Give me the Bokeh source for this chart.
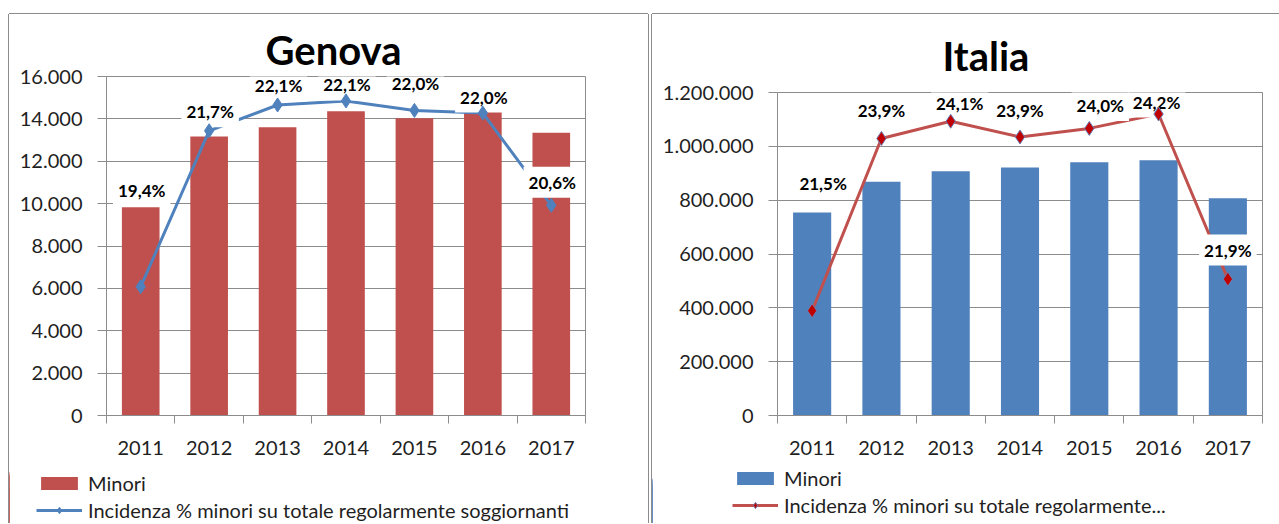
from bokeh.plotting import figure
from bokeh.layouts import row, column
from bokeh.models import (Range1d, FixedTicker, SingleIntervalTicker, CustomJSTickFormatter,
                          Legend, LegendItem, Label, Title, Spacer)
from bokeh.embed import file_html
from bokeh.resources import INLINE

# ---------------- data ----------------
years = ["2011", "2012", "2013", "2014", "2015", "2016", "2017"]

genova_minori = [9830, 13170, 13610, 14360, 14030, 14360, 13340]
genova_incidenza = [19.4, 21.7, 22.08, 22.14, 22.0, 21.96, 20.6]

italia_minori = [754000, 868000, 907000, 921000, 941000, 948000, 807000]
italia_incidenza = [21.46, 23.86, 24.1, 23.88, 24.0, 24.2, 21.9]

genova_title = "Genova"
italia_title = "Italia"
bar_label = "Minori"
line_label_genova = "Incidenza % minori su totale regolarmente soggiornanti"
line_label_italia = "Incidenza % minori su totale regolarmente..."

# ---------------- styles ----------------
RED = "#C0504D"
BLUE = "#4F81BD"
GRID = "#8c8c8c"
TXT = "#1f1f1f"
FONT = "Lato"

fmt = CustomJSTickFormatter(code="return tick.toFixed(0).replace(/\\B(?=(\\d{3})+(?!\\d))/g, '.');")

CHART_H = 452
LEG_H = 57


def make_panel(title, minori, incid, ymax, yint, pct_range, bar_color, line_color,
               marker_fill, marker_line, line_label, width, mb_left, mb_top,
               frame_w, frame_h, title_offset, title_standoff, lab_dx, lab_dy,
               legend_loc, styles):
    n = len(years)
    xs = list(range(n))
    p = figure(width=width, height=CHART_H, output_backend="svg", toolbar_location=None,
               x_range=Range1d(-0.5, n - 0.5), y_range=Range1d(0, ymax),
               min_border_left=mb_left, min_border_right=width - mb_left - frame_w,
               min_border_top=mb_top, min_border_bottom=CHART_H - mb_top - frame_h,
               background_fill_color="white", border_fill_color="white",
               outline_line_color=GRID, outline_line_width=1)
    p.title = Title(text=title, align="left", offset=title_offset, text_font=FONT,
                    text_font_size="40px", text_font_style="bold", text_color="black",
                    standoff=title_standoff, text_line_height=1.0)
    p.extra_y_ranges = {"pct": Range1d(*pct_range)}

    bars = p.vbar(x=xs, top=minori, width=0.55, fill_color=bar_color, line_color=None)
    ln = p.line(x=xs, y=incid, y_range_name="pct", line_color=line_color, line_width=3)
    pts = p.scatter(x=xs, y=incid, y_range_name="pct", marker="diamond", size=14,
                    fill_color=marker_fill, line_color=marker_line, line_width=1,
                    level="overlay")

    for i in range(n):
        txt = f"{incid[i]:.1f}%".replace(".", ",")
        p.add_layout(Label(x=xs[i], y=incid[i], y_range_name="pct", text=txt,
                           x_offset=lab_dx[i], y_offset=lab_dy[i],
                           text_align="center", text_baseline="middle",
                           text_font=FONT, text_font_size="17px", text_font_style="bold",
                           text_color="black", background_fill_color="white",
                           padding=5))

    # axes
    xa = p.xaxis[0]
    xa.ticker = FixedTicker(ticks=xs, minor_ticks=[i - 0.5 for i in range(n + 1)])
    xa.major_label_overrides = {i: years[i] for i in range(n)}
    xa.major_tick_out = 0
    xa.major_tick_in = 0
    xa.minor_tick_out = 8
    xa.minor_tick_in = 0
    xa.minor_tick_line_color = GRID
    xa.axis_line_color = GRID
    xa.major_label_text_font = FONT
    xa.major_label_text_font_size = "20px"
    xa.major_label_text_color = TXT
    xa.major_label_standoff = 17

    ya = p.yaxis[0]
    ya.ticker = SingleIntervalTicker(interval=yint, num_minor_ticks=0)
    ya.formatter = fmt
    ya.major_tick_out = 9
    ya.major_tick_in = 0
    ya.minor_tick_out = 0
    ya.minor_tick_in = 0
    ya.major_tick_line_color = GRID
    ya.axis_line_color = GRID
    ya.major_label_text_font = FONT
    ya.major_label_text_font_size = "20px"
    ya.major_label_text_color = TXT
    ya.major_label_standoff = 15

    p.xgrid.grid_line_color = None
    p.ygrid.grid_line_color = GRID
    p.ygrid.grid_line_width = 1
    p.ygrid.ticker = ya.ticker

    # legend lives in its own strip below the chart; its glyphs use the same data
    # (the strip's x range lies just right of the data, so only the legend shows)
    lg = figure(width=width, height=LEG_H, output_backend="svg", toolbar_location=None,
                x_range=Range1d(n + 0.5, n + 1.5), y_range=Range1d(0, ymax),
                x_axis_type=None, y_axis_type=None, min_border=0,
                background_fill_color="white", border_fill_color="white",
                outline_line_color=None)
    if "frame_align" in lg.properties():
        lg.frame_align = False
    lg.grid.visible = False
    lbars = lg.vbar(x=xs, top=minori, width=0.55, fill_color=bar_color, line_color=None)
    lln = lg.line(x=xs, y=incid, line_color=line_color, line_width=3)
    lpts = lg.scatter(x=xs, y=incid, marker="diamond", size=14,
                      fill_color=marker_fill, line_color=marker_line, line_width=1)
    legend = Legend(items=[LegendItem(label=bar_label, renderers=[lbars]),
                           LegendItem(label=line_label, renderers=[lln, lpts])],
                    location=legend_loc, orientation="vertical",
                    glyph_width=46, glyph_height=16, label_standoff=6, spacing=3,
                    padding=0, margin=0, border_line_color=None,
                    background_fill_alpha=0,
                    label_text_font=FONT, label_text_font_size="20px",
                    label_text_color=TXT)
    lg.add_layout(legend, "center")
    return column(p, lg, spacing=0, styles=styles)


shadow_left = {"box-shadow": "-1px 0 0 0 #8c8c8c, 1px 0 0 0 #8c8c8c, 0 -1px 0 0 #8c8c8c"}
shadow_right = {"box-shadow": "-1px 0 0 0 #8c8c8c, 0 -1px 0 0 #8c8c8c"}

left = make_panel(genova_title, genova_minori, genova_incidenza, 16000, 2000, (17.5, 22.5),
                  RED, BLUE, BLUE, BLUE, line_label_genova,
                  width=639, mb_left=97, mb_top=62, frame_w=479, frame_h=339,
                  title_offset=159, title_standoff=5,
                  lab_dx=[1, 1, 1, 1, 1, 1, 1], lab_dy=[96, 19, 19, 16, 27, 16, 23],
                  legend_loc=(27, 1), styles=shadow_left)

right = make_panel(italia_title, italia_minori, italia_incidenza, 1200000, 200000, (20.0, 24.5),
                   BLUE, RED, "#C00000", "#6b7fb5", line_label_italia,
                   width=627, mb_left=125, mb_top=78, frame_w=485, frame_h=323,
                   title_offset=165, title_standoff=26,
                   lab_dx=[11, 0, 9, 0, 11, -2, 0], lab_dy=[127, 28, 18, 27, 23, 12, 29],
                   legend_loc=(80, 6), styles=shadow_right)

layout = column(Spacer(height=14),
                row(Spacer(width=9), left, Spacer(width=4), right, spacing=0),
                spacing=0)
open("out.html", "w").write(file_html(layout, INLINE))
